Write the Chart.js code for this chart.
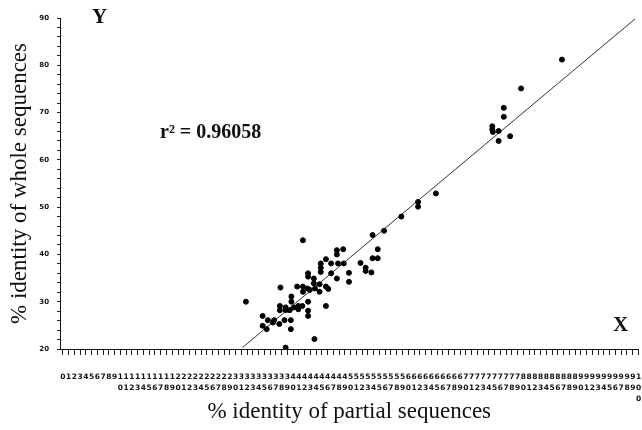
<!DOCTYPE html>
<html>
<head>
<meta charset="utf-8">
<script src="https://cdn.jsdelivr.net/npm/chart.js@4.4.0/dist/chart.umd.min.js"></script>
<style>
html,body{margin:0;padding:0;background:#fff;}
#wrap{width:642px;height:430px;position:relative;}
</style>
</head>
<body>
<div id="wrap"><canvas id="c" width="642" height="430"></canvas></div>
<script>
// ---- data ----
const partialIdentity = [31.8,41.7,38.7,43.7,37.8,34.7,34.7,35.6,35.4,36.5,36.7,37.6,38.5,39.6,39.6,
  40.9,40.9,40.1,38.7,37.7,37.7,38.7,39.4,41.6,42.6,42.6,42.6,45.7,39.7,39.7,
  40.7,41.7,41.7,42.5,42.9,43.8,44.6,45.7,46.1,43.6,43.6,44.6,47.6,42.6,42.6,
  46.6,49.7,49.7,44.8,44.8,44.8,46.6,47.8,48.8,45.7,47.6,47.6,48.7,51.7,52.6,
  52.6,53.6,53.8,54.7,54.7,53.8,55.8,58.8,61.7,61.7,64.8,74.6,74.6,74.7,75.7,
  75.7,77.7,76.6,76.6,79.6,86.7];
const wholeIdentity = [30.0,43.0,20.3,22.1,33.0,27.0,24.9,26.1,24.2,25.6,26.1,25.3,26.1,26.1,24.2,
  29.1,28.4,28.8,28.8,29.1,28.2,28.2,28.2,29.1,30.0,28.1,27.0,29.1,31.1,30.0,
  33.2,33.2,32.1,32.8,32.5,32.8,32.1,33.2,32.7,34.9,33.9,33.7,34.9,36.0,35.3,
  36.0,36.1,34.2,38.1,37.2,36.3,38.1,38.1,38.1,39.0,40.9,40.0,41.1,38.2,37.2,
  36.5,36.2,39.2,41.1,39.2,44.1,45.0,48.0,51.1,50.1,52.9,67.1,66.4,65.9,66.1,
  64.0,65.0,71.0,69.1,75.1,81.2];
const fitX = [31.2, 99.4];
const fitY = [20.3, 89.8];
const xTicks = Array.from({length:101},(_,i)=>i);
const yTicks = [20,22,24,26,28,30,32,34,36,38,40,42,44,46,48,50,52,54,56,58,60,62,64,66,68,70,72,74,76,78,80,82,84,86,88,90];
const yLabelled = [20,30,40,50,60,70,80,90];
const rSquared = "r\u00b2 = 0.96058";

const points = partialIdentity.map((x,i)=>({x:x,y:wholeIdentity[i]}));
const fitLine = fitX.map((x,i)=>({x:x,y:fitY[i]}));

const textPlugin = {
  id:'texts',
  afterDraw(chart){
    const ctx = chart.ctx;
    ctx.save();
    ctx.fillStyle = '#111';
    ctx.textBaseline = 'middle';
    ctx.font = 'bold 21px "Liberation Serif", "DejaVu Serif", serif';
    ctx.textAlign = 'left';
    ctx.fillText('Y', 92, 18);
    ctx.fillText('X', 613, 326);
    ctx.font = 'bold 20px "Liberation Serif", "DejaVu Serif", serif';
    ctx.fillText(rSquared, 160, 133);
    ctx.restore();
  }
};

new Chart(document.getElementById('c'), {
  type:'scatter',
  data:{
    datasets:[
      {data:points, backgroundColor:'#000', borderColor:'#000', pointRadius:2.5, pointHoverRadius:2.5, order:1},
      {type:'line', data:fitLine, borderColor:'#333', borderWidth:1, pointRadius:0, fill:false, showLine:true, order:2}
    ]
  },
  options:{
    responsive:false,
    animation:false,
    layout:{padding:{top:18,right:3,left:0,bottom:0}},
    plugins:{legend:{display:false}, tooltip:{enabled:false}},
    scales:{
      x:{
        type:'linear', min:-0.5, max:100,
        afterBuildTicks:s=>{ s.ticks = xTicks.map(v=>({value:v})); },
        afterFit:s=>{ s.height = 81; s.paddingLeft = 0; s.paddingRight = 0; },
        border:{display:true,color:'#111',width:1},
        grid:{display:true,drawOnChartArea:false,drawTicks:true,tickLength:6,color:'#222',tickColor:'#222'},
        ticks:{autoSkip:false,maxRotation:0,minRotation:0,padding:17,color:'#111',
          font:{family:'"DejaVu Sans", sans-serif',size:7.5,weight:'bold',lineHeight:1.45},
          callback:v=>String(v).split('')},
        title:{display:true,text:'% identity of partial sequences',color:'#111',
          font:{family:'"Liberation Serif", serif',size:23},padding:{top:0,bottom:4}}
      },
      y:{
        type:'linear', min:20, max:90,
        afterBuildTicks:s=>{ s.ticks = yTicks.map(v=>({value:v})); },
        afterFit:s=>{ s.width = 60; },
        border:{display:true,color:'#111',width:1},
        grid:{display:true,drawOnChartArea:false,drawTicks:true,tickLength:3,color:'#222',tickColor:'#222'},
        ticks:{autoSkip:false,padding:8,color:'#111',
          font:{family:'"DejaVu Sans", sans-serif',size:7,weight:'bold'},
          callback:v=> yLabelled.includes(v) ? String(v) : ''},
        title:{display:true,text:'% identity of whole sequences',color:'#111',
          font:{family:'"Liberation Serif", serif',size:23},padding:{top:6,bottom:0}}
      }
    }
  },
  plugins:[textPlugin]
});
</script>
</body>
</html>
